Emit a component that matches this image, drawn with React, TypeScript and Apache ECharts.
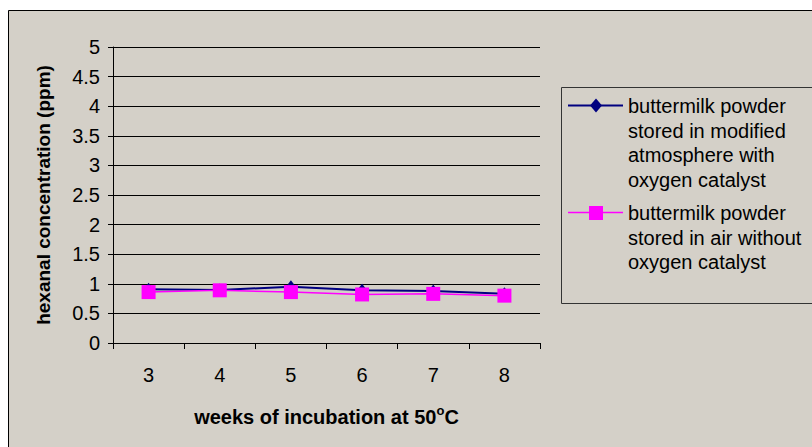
import React, { useEffect, useRef } from "react";
import * as echarts from "echarts";

const weeks = ["3", "4", "5", "6", "7", "8"];
const modifiedAtmosphere = [0.91, 0.895, 0.95, 0.89, 0.88, 0.83];
const airNoCatalyst = [0.86, 0.89, 0.86, 0.82, 0.83, 0.8];
const seriesNames = [
  "buttermilk powder stored in modified atmosphere with oxygen catalyst",
  "buttermilk powder stored in air without oxygen catalyst",
];
const legendLines1 = ["buttermilk powder", "stored in modified", "atmosphere with", "oxygen catalyst"];
const legendLines2 = ["buttermilk powder", "stored in air without", "oxygen catalyst"];

const BG = "#d4d0c8";
const NAVY = "#000080";
const MAGENTA = "#ff00ff";
const FONT = "Liberation Sans, Arial, sans-serif";

export default function App() {
  const ref = useRef<HTMLDivElement>(null);
  useEffect(() => {
    document.body.style.margin = "0";
    const chart = echarts.init(ref.current!, null, { renderer: "svg" });
    const textEls: any[] = [];
    legendLines1.forEach((t, i) =>
      textEls.push({
        type: "text",
        x: 628,
        y: 106 + i * 24.5,
        style: { text: t, font: `20px ${FONT}`, fill: "#000", verticalAlign: "middle" },
      })
    );
    legendLines2.forEach((t, i) =>
      textEls.push({
        type: "text",
        x: 628,
        y: 213 + i * 24.5,
        style: { text: t, font: `20px ${FONT}`, fill: "#000", verticalAlign: "middle" },
      })
    );
    chart.setOption({
      animation: false,
      backgroundColor: "#ffffff",
      textStyle: { fontFamily: FONT },
      graphic: [
        {
          type: "rect",
          z: -10,
          shape: { x: 8.5, y: 10.5, width: 900, height: 500 },
          style: { fill: BG, stroke: "#000", lineWidth: 1 },
        },
        {
          type: "rect",
          shape: { x: 561.5, y: 87.5, width: 300, height: 216 },
          style: { fill: "none", stroke: "#333", lineWidth: 1 },
        },
        {
          type: "line",
          shape: { x1: 568, y1: 105.5, x2: 623, y2: 105.5 },
          style: { stroke: NAVY, lineWidth: 2 },
        },
        {
          type: "polygon",
          shape: { points: [[596, 98.5], [602, 105.5], [596, 112.5], [590, 105.5]] },
          style: { fill: NAVY },
        },
        {
          type: "line",
          shape: { x1: 568, y1: 212.5, x2: 623, y2: 212.5 },
          style: { stroke: MAGENTA, lineWidth: 1.5 },
        },
        {
          type: "rect",
          shape: { x: 589, y: 206, width: 14, height: 14 },
          style: { fill: MAGENTA },
        },
        ...textEls,
      ],
      grid: { left: 113, right: 272, top: 47, bottom: 104, containLabel: false },
      xAxis: {
        type: "category",
        data: weeks,
        boundaryGap: true,
        name: "{n|weeks of incubation at 50}{s|o}{n|C}",
        nameLocation: "middle",
        nameGap: 61,
        nameTextStyle: {
          rich: {
            n: { fontSize: 20, fontWeight: "bold", color: "#000", fontFamily: FONT, verticalAlign: "bottom" },
            s: { fontSize: 13, fontWeight: "bold", color: "#000", fontFamily: FONT, verticalAlign: "top", padding: [0, 0, 10, 0] },
          },
        },
        axisLine: { lineStyle: { color: "#000", width: 1 } },
        axisTick: { show: true, alignWithLabel: false, length: 6, lineStyle: { color: "#000" } },
        axisLabel: { fontSize: 20, color: "#000", margin: 22, fontFamily: FONT },
        splitLine: { show: false },
      },
      yAxis: {
        type: "value",
        min: 0,
        max: 5,
        interval: 0.5,
        name: "hexanal concentration (ppm)",
        nameLocation: "middle",
        nameGap: 60,
        nameTextStyle: { fontSize: 19, fontWeight: "bold", color: "#000", fontFamily: FONT },
        axisLine: { show: true, lineStyle: { color: "#000", width: 1 } },
        axisTick: { show: true, length: 5, lineStyle: { color: "#000" } },
        axisLabel: { fontSize: 20, color: "#000", margin: 13, fontFamily: FONT },
        splitLine: { show: true, lineStyle: { color: "#000", width: 1 } },
      },
      series: [
        {
          name: seriesNames[0],
          type: "line",
          data: modifiedAtmosphere,
          symbol: "diamond",
          symbolSize: [10, 13],
          lineStyle: { color: NAVY, width: 2 },
          itemStyle: { color: NAVY },
          z: 2,
        },
        {
          name: seriesNames[1],
          type: "line",
          data: airNoCatalyst,
          symbol: "rect",
          symbolSize: 14,
          lineStyle: { color: MAGENTA, width: 1.5 },
          itemStyle: { color: MAGENTA },
          z: 3,
        },
      ],
    });
    return () => chart.dispose();
  }, []);
  return <div ref={ref} style={{ width: 812, height: 447 }} />;
}
